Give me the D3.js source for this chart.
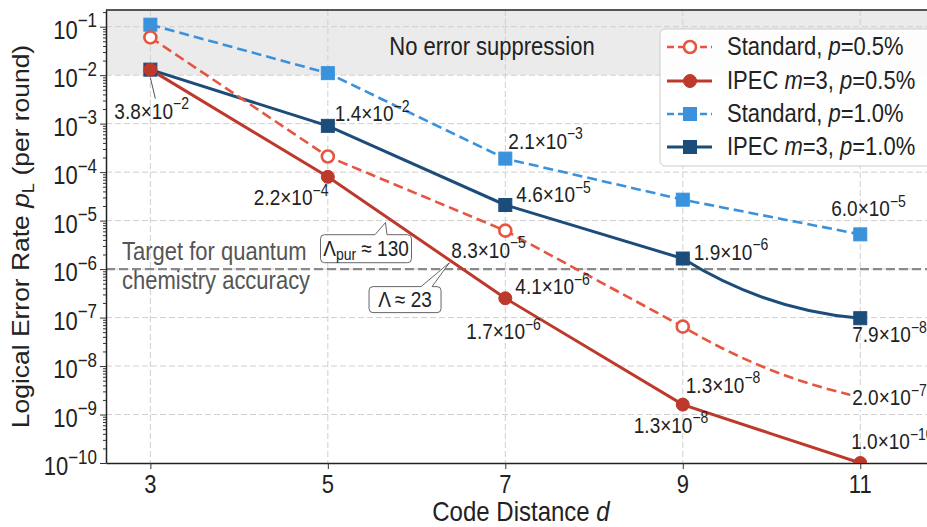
<!DOCTYPE html>
<html>
<head>
<meta charset="utf-8">
<script src="https://cdn.jsdelivr.net/npm/d3@7"></script>
<style>
body { margin: 0; background: #fff; }
text { font-family: "Liberation Sans", Arial, sans-serif; fill: #222; }
</style>
</head>
<body>
<script>
// data
const distances = [3, 5, 7, 9, 11];
const standard05 = [0.06, 2.1e-4, 6.2e-6, 6.5e-8, 2.3e-9];
const ipec05 = [0.013, 8.0e-5, 2.5e-7, 1.6e-9, 1.0e-10];
const standard10 = [0.11, 0.011, 1.9e-4, 2.7e-5, 5.2e-6];
const ipec10 = [0.013, 9.0e-4, 2.1e-5, 1.65e-6, 9.7e-8];
const yTickExps = [-1, -2, -3, -4, -5, -6, -7, -8, -9, -10];
const targetRate = 1e-6;
const suppressionLimit = 1e-2;

const labelMantissa = ["3.8", "2.2", "1.4", "2.1", "4.6", "8.3", "4.1", "1.7", "1.9", "6.0", "7.9", "1.3", "1.3", "2.0", "1.0"];
const labelExponent = [-2, -4, -2, -3, -5, -5, -6, -6, -6, -5, -8, -8, -8, -7, -10];

let W = 927, H = 527;
let S = 1.15; // the figure is a bit taller than wide in its text

let svg = d3.select("body").append("svg")
  .attr("width", W).attr("height", H)
  .style("display", "block");

let x = d3.scaleLinear().domain([2.5, 12]).range([106, 949]);
let y = d3.scaleLog().domain([1e-10, Math.pow(10, -0.656)]).range([463, 10]);
let pTop = y.range()[1], pBottom = y.range()[0], pLeft = x.range()[0], pRight = x.range()[1];

function place(sel, px, py) {
  return sel.attr("transform", "translate(" + px + "," + py + ") scale(1," + S + ")");
}

function sciText(g, mant, exp, size, supSize) {
  let t = g.append("text").attr("font-size", size);
  t.append("tspan").text(mant + "\u00d710");
  t.append("tspan").attr("font-size", supSize).attr("dy", -0.42 * size).text("\u2212" + Math.abs(exp));
  return t;
}

// straight segments, last one bent (steep start, flat end) like the figure
function endBend(k1, k2) {
  return function(context) {
    let pts;
    return {
      areaStart() {}, areaEnd() {},
      lineStart() { pts = []; },
      point(px, py) { pts.push([+px, +py]); },
      lineEnd() {
        let n = pts.length;
        context.moveTo(pts[0][0], pts[0][1]);
        for (let i = 1; i < n - 1; i++) context.lineTo(pts[i][0], pts[i][1]);
        let a = pts[n - 2], b = pts[n - 1], dx = b[0] - a[0], dy = b[1] - a[1];
        context.bezierCurveTo(a[0] + dx / 3, a[1] + dy * k1, a[0] + 2 * dx / 3, b[1] - dy * k2, b[0], b[1]);
      }
    };
  };
}

svg.append("defs").append("clipPath").attr("id", "plot")
  .append("rect").attr("x", pLeft).attr("y", pTop).attr("width", pRight - pLeft).attr("height", pBottom - pTop);

// no-suppression band
svg.append("rect")
  .attr("x", pLeft).attr("y", pTop)
  .attr("width", pRight - pLeft).attr("height", y(suppressionLimit) - pTop)
  .attr("fill", "#ebebeb");

// grid
let decades = yTickExps.map(e => Math.pow(10, e));
svg.append("g").selectAll("line").data(decades.filter(d => d > 1e-10)).enter().append("line")
  .attr("x1", pLeft).attr("x2", pRight)
  .attr("y1", d => y(d)).attr("y2", d => y(d))
  .attr("stroke", "#cfcfcf").attr("stroke-width", 1).attr("stroke-dasharray", "6,3");
svg.append("g").selectAll("line").data(distances).enter().append("line")
  .attr("x1", d => x(d)).attr("x2", d => x(d))
  .attr("y1", pTop).attr("y2", pBottom)
  .attr("stroke", "#cfcfcf").attr("stroke-width", 1).attr("stroke-dasharray", "6,3");

// target line
svg.append("line")
  .attr("x1", pLeft).attr("x2", pRight)
  .attr("y1", y(targetRate)).attr("y2", y(targetRate))
  .attr("stroke", "#8a8a8a").attr("stroke-width", 2.2).attr("stroke-dasharray", "9,4");

place(svg.append("text").attr("font-size", 22).style("fill", "#555")
  .text("Target for quantum"), x(2.5) + 16, y(targetRate) - 9);
place(svg.append("text").attr("font-size", 22).style("fill", "#555")
  .text("chemistry accuracy"), x(2.5) + 16, y(targetRate) + 20);

place(svg.append("text").attr("font-size", 22).attr("text-anchor", "middle")
  .text("No error suppression"), 492, 55);

// axes
let yMinor = [];
for (let e = -10; e <= -1; e++) {
  for (let m = 2; m <= 9; m++) {
    let v = m * Math.pow(10, e);
    if (v < y.domain()[1]) yMinor.push(v);
  }
}
svg.append("g").attr("transform", "translate(" + pLeft + ",0)")
  .call(d3.axisLeft(y).tickValues(decades).tickSize(6).tickSizeOuter(0).tickFormat(""));
svg.append("g").attr("transform", "translate(" + pLeft + ",0)")
  .call(d3.axisLeft(y).tickValues(yMinor).tickSize(3).tickSizeOuter(0).tickFormat(""))
  .select(".domain").remove();
svg.append("g").attr("transform", "translate(0," + pBottom + ")")
  .call(d3.axisBottom(x).tickValues(distances).tickSize(6).tickSizeOuter(0).tickFormat(""));
svg.selectAll(".domain").attr("stroke", "#222").attr("stroke-width", 1.5);
svg.selectAll(".tick line").attr("stroke", "#333");
svg.append("line").attr("x1", pLeft).attr("x2", pRight).attr("y1", pTop).attr("y2", pTop)
  .attr("stroke", "#222").attr("stroke-width", 1.5);

yTickExps.forEach(function(e) {
  let t = place(svg.append("text").attr("font-size", 22).attr("text-anchor", "end"), pLeft - 9, y(Math.pow(10, e)) + 12);
  t.append("tspan").text("10");
  t.append("tspan").attr("font-size", 17).attr("dy", -10).text("\u2212" + Math.abs(e));
});
distances.forEach(function(d) {
  place(svg.append("text").attr("font-size", 22).attr("text-anchor", "middle").text(d), x(d), pBottom + 30);
});

let xt = place(svg.append("text").attr("font-size", 24).attr("text-anchor", "middle"), 521, 521);
xt.append("tspan").text("Code Distance ");
xt.append("tspan").attr("font-style", "italic").text("d");

let yt = svg.append("text").attr("font-size", 23).attr("text-anchor", "middle")
  .attr("transform", "translate(29," + ((pTop + pBottom) / 2) + ") rotate(-90) scale(" + S + ",1)");
yt.append("tspan").text("Logical Error Rate ");
yt.append("tspan").attr("font-style", "italic").text("p");
yt.append("tspan").attr("font-size", 16).attr("dy", 5).text("L");
yt.append("tspan").attr("dy", -5).text(" (per round)");

// series
let series = [
  { vals: standard10, color: "#3a92dc", dash: "10,5", width: 2.6, marker: "square", fill: "#3a92dc", bend: [1 / 3, 1 / 3] },
  { vals: ipec10, color: "#1c4d7a", dash: null, width: 3, marker: "square", fill: "#1c4d7a", bend: [0.62, 0.08] },
  { vals: standard05, color: "#e5553f", dash: "10,5", width: 2.6, marker: "circle", fill: "#fff", bend: [0.5, 0.18] },
  { vals: ipec05, color: "#bd392b", dash: null, width: 3, marker: "circle", fill: "#bd392b", bend: [1 / 3, 1 / 3] }
];

let plot = svg.append("g").attr("clip-path", "url(#plot)");

function drawMarker(g, type, px, py, color, fill) {
  if (type === "circle") {
    g.append("circle").attr("cx", px).attr("cy", py).attr("r", fill === "#fff" ? 6 : 6.5)
      .attr("fill", fill).attr("stroke", color).attr("stroke-width", fill === "#fff" ? 2.6 : 1);
  } else {
    g.append("rect").attr("x", px - 6.5).attr("y", py - 6.5).attr("width", 13).attr("height", 13)
      .attr("fill", fill).attr("stroke", color).attr("stroke-width", 1);
  }
}

series.forEach(function(s) {
  let line = d3.line()
    .x((d, i) => x(distances[i]))
    .y(d => y(d))
    .curve(endBend(s.bend[0], s.bend[1]));
  plot.append("path").datum(s.vals)
    .attr("d", line)
    .attr("fill", "none")
    .attr("stroke", s.color)
    .attr("stroke-width", s.width)
    .attr("stroke-dasharray", s.dash);
});
series.forEach(function(s) {
  s.vals.forEach(function(v, i) {
    drawMarker(plot, s.marker, x(distances[i]), y(v), s.color, s.fill);
  });
});

// value labels, placed next to the points they belong to
let labelAnchor = [
  [ipec05, 0, -36, 49], [ipec05, 1, -74, 28], [ipec10, 1, 7, -5], [standard10, 2, 3, -10],
  [ipec10, 2, 11, -3], [standard05, 2, -54, 27], [ipec05, 2, 10, -4], [ipec05, 2, -39, 41],
  [ipec10, 3, 11, 1], [standard10, 4, -29, -18], [ipec10, 4, -8, 24], [ipec05, 3, 3, -12],
  [ipec05, 3, -49, 28], [standard05, 4, -8, 8], [ipec05, 4, -9, -14]
];
labelMantissa.forEach(function(m, k) {
  let a = labelAnchor[k];
  let px = x(distances[a[1]]) + a[2];
  let py = y(a[0][a[1]]) + a[3];
  let g = svg.append("g");
  if (k === 13) {
    g.append("rect").attr("x", px - 2).attr("y", py - 19).attr("width", 90).attr("height", 24).attr("fill", "#fff");
  }
  place(sciText(g, m, labelExponent[k], 19, 14), px, py);
});

// leader for the d=3 label
svg.append("line")
  .attr("x1", x(3)).attr("y1", y(ipec05[0]) + 8)
  .attr("x2", x(3) + 5).attr("y2", y(ipec05[0]) + 29)
  .attr("stroke", "#555").attr("stroke-width", 1);

// callouts
function callout(cx, cy, w, h, b1, b2, tx, ty) {
  let x0 = cx - w / 2, x1 = cx + w / 2, y0 = cy - h / 2, y1 = cy + h / 2, r = 4;
  let p = d3.path();
  p.moveTo(x0 + r, y0);
  p.lineTo(b1, y0);
  p.lineTo(tx, ty);
  p.lineTo(b2, y0);
  p.lineTo(x1 - r, y0);
  p.arcTo(x1, y0, x1, y0 + r, r);
  p.lineTo(x1, y1 - r);
  p.arcTo(x1, y1, x1 - r, y1, r);
  p.lineTo(x0 + r, y1);
  p.arcTo(x0, y1, x0, y1 - r, r);
  p.lineTo(x0, y0 + r);
  p.arcTo(x0, y0, x0 + r, y0, r);
  p.closePath();
  svg.append("path").attr("d", p.toString()).attr("fill", "#fff").attr("stroke", "#666").attr("stroke-width", 1);
}
let c1x = x(5.43), c1y = y(Math.pow(10, -5.58));
callout(c1x, c1y, 91, 28, c1x + 9, c1x + 21, x(5.65), y(Math.pow(10, -5.04)));
let t1 = place(svg.append("text").attr("font-size", 19).attr("text-anchor", "middle"), c1x, c1y + 7);
t1.append("tspan").text("\u039b");
t1.append("tspan").attr("font-size", 14).attr("dy", 4).text("pur");
t1.append("tspan").attr("dy", -4).text(" \u2248 130");

let c2x = x(5.87), c2y = y(Math.pow(10, -6.63));
callout(c2x, c2y, 72, 26, c2x + 16, c2x + 27, x(6.37), y(Math.pow(10, -5.87)));
place(svg.append("text").attr("font-size", 19).attr("text-anchor", "middle").text("\u039b \u2248 23"), c2x, c2y + 7);

// legend
let legendItems = [
  [["Standard, ", ""], ["p", "i"], ["=0.5%", ""]],
  [["IPEC ", ""], ["m", "i"], ["=3, ", ""], ["p", "i"], ["=0.5%", ""]],
  [["Standard, ", ""], ["p", "i"], ["=1.0%", ""]],
  [["IPEC ", ""], ["m", "i"], ["=3, ", ""], ["p", "i"], ["=1.0%", ""]]
];
let legendSeries = [series[2], series[3], series[0], series[1]];
let lg = svg.append("g");
lg.append("rect").attr("x", 660).attr("y", 29).attr("width", 300).attr("height", 137).attr("rx", 5)
  .attr("fill", "#fff").attr("fill-opacity", 0.9).attr("stroke", "#ccc").attr("stroke-width", 1);
let rowY = [47, 81, 114, 147];
legendItems.forEach(function(parts, i) {
  let s = legendSeries[i];
  lg.append("line").attr("x1", 667).attr("x2", 712).attr("y1", rowY[i]).attr("y2", rowY[i])
    .attr("stroke", s.color).attr("stroke-width", s.width).attr("stroke-dasharray", s.dash ? "7,4" : null);
  drawMarker(lg, s.marker, 690, rowY[i], s.color, s.fill);
  let t = place(lg.append("text").attr("font-size", 22), 727, rowY[i] + 8);
  parts.forEach(function(p) {
    t.append("tspan").attr("font-style", p[1] === "i" ? "italic" : null).text(p[0]);
  });
});
</script>
</body>
</html>
